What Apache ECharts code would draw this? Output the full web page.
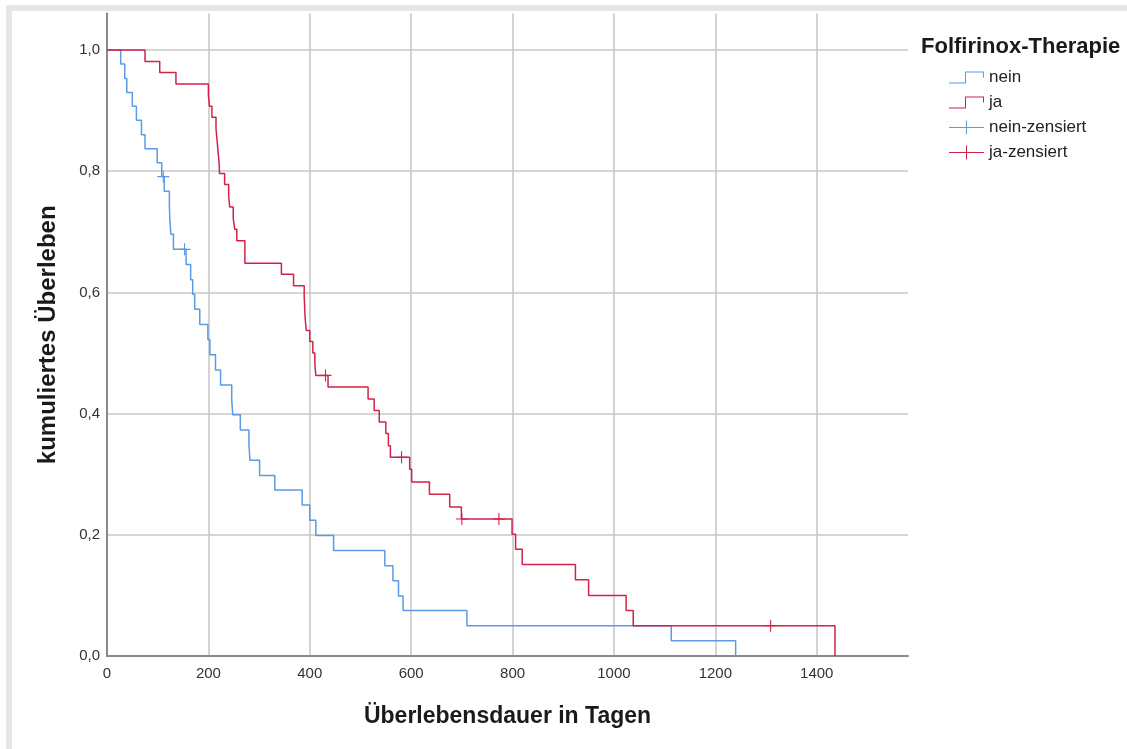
<!DOCTYPE html>
<html>
<head>
<meta charset="utf-8">
<script src="https://cdn.jsdelivr.net/npm/echarts@6/dist/echarts.min.js"></script>
<style>
html,body{margin:0;padding:0;background:#fff;}
#frame{position:absolute;left:6px;top:5px;width:1121px;height:744px;border-left:6px solid #e6e6e6;border-top:6px solid #e6e6e6;box-sizing:border-box;}
#chart{position:absolute;left:0;top:0;width:1127px;height:749px;}
</style>
</head>
<body>
<div id="frame"></div>
<div id="chart"></div>
<script>
// Kaplan-Meier data (days, cumulative survival)
const neinTimes = [27,35,39,50,58,68,75,99,108,113,123,124,126,131,156,165,169,173,183,199,203,214,224,246,248,263,280,282,301,331,385,400,412,447,548,564,575,584,710,1113,1240];
const neinSurv  = [0.977,0.953,0.930,0.907,0.884,0.860,0.837,0.814,0.791,0.767,0.743,0.719,0.696,0.671,0.646,0.621,0.597,0.572,0.547,0.522,0.497,0.472,0.447,0.423,0.398,0.373,0.348,0.323,0.298,0.274,0.249,0.224,0.199,0.174,0.149,0.124,0.099,0.075,0.050,0.025,0];
const neinCensTimes = [111,153];
const neinCensSurv  = [0.791,0.671];

const jaTimes = [75,104,136,200,202,207,215,217,219,221,222,232,240,242,249,252,256,272,344,368,389,390,391,393,400,406,410,412,436,515,527,537,550,555,559,597,601,636,676,699,799,806,819,924,950,1024,1038,1436];
const jaSurv  = [0.981,0.963,0.944,0.926,0.907,0.889,0.870,0.852,0.833,0.815,0.796,0.778,0.759,0.741,0.722,0.704,0.685,0.648,0.630,0.611,0.593,0.574,0.556,0.537,0.519,0.500,0.481,0.463,0.444,0.424,0.405,0.386,0.367,0.347,0.328,0.308,0.287,0.267,0.246,0.226,0.201,0.176,0.151,0.126,0.100,0.075,0.050,0];
const jaCensTimes = [431,581,700,773,1309];
const jaCensSurv  = [0.463,0.328,0.226,0.226,0.050];

const seriesNames = ['nein','ja','nein-zensiert','ja-zensiert'];
const legendTitle = 'Folfirinox-Therapie';
const xAxisTitle = 'Überlebensdauer in Tagen';
const yAxisTitle = 'kumuliertes Überleben';

const BLUE = '#5b9ae4';
const RED = '#d4214b';
const FONT = 'Liberation Sans, Arial, sans-serif';

function stepData(t, s) {
  const d = [[0, 1]];
  for (let i = 0; i < t.length; i++) d.push([t[i], s[i]]);
  return d;
}
function pts(t, s) { return t.map((v, i) => [v, s[i]]); }

const plusPath = 'path://M-0.09,-1 H0.09 V-0.09 H1 V0.09 H0.09 V1 H-0.09 V0.09 H-1 V-0.09 H-0.09 Z';
const stepIcon = 'path://M0,12 H16 V1 H35 V7 H34 V2 H17 V13 H0 Z';
const censIcon = 'path://M0,6.5 H35 V7.5 H0 Z M17,0 H18 V14 H17 Z';

const chart = echarts.init(document.getElementById('chart'), null, {renderer: 'canvas'});
chart.setOption({
  animation: false,
  backgroundColor: 'transparent',
  title: {
    text: legendTitle, left: 916, top: 31,
    textStyle: {fontFamily: FONT, fontSize: 22, fontWeight: 'bold', color: '#1a1a1a'}
  },
  legend: {
    orient: 'vertical', left: 949, top: 69, itemWidth: 35, itemHeight: 14, itemGap: 8, padding: 0,
    textStyle: {fontFamily: FONT, fontSize: 17, color: '#222'},
    data: [
      {name: seriesNames[0], icon: stepIcon},
      {name: seriesNames[1], icon: stepIcon},
      {name: seriesNames[2], icon: censIcon},
      {name: seriesNames[3], icon: censIcon}
    ]
  },
  grid: {left: 107, right: 219, top: 13.6, bottom: 93, containLabel: false},
  xAxis: {
    type: 'value', min: 0, max: 1580, interval: 200,
    name: xAxisTitle, nameLocation: 'middle', nameGap: 49,
    nameTextStyle: {fontFamily: FONT, fontSize: 23, fontWeight: 'bold', color: '#1a1a1a'},
    axisLine: {show: true, onZero: false, lineStyle: {color: '#8a8a8a', width: 2}},
    axisTick: {show: false},
    axisLabel: {fontFamily: FONT, fontSize: 15, color: '#333', margin: 10, showMaxLabel: false,
      formatter: v => (v % 200 === 0 ? String(v) : '')},
    splitLine: {show: true, showMaxLine: false, lineStyle: {color: '#c8c8c8', width: 1.6}}
  },
  yAxis: {
    type: 'value', min: 0, max: 1.06, interval: 0.2,
    name: yAxisTitle, nameLocation: 'middle', nameGap: 47, nameRotate: 90,
    nameTextStyle: {fontFamily: FONT, fontSize: 24, fontWeight: 'bold', color: '#1a1a1a'},
    axisLine: {show: true, onZero: false, lineStyle: {color: '#8a8a8a', width: 2}},
    axisTick: {show: false},
    axisLabel: {fontFamily: FONT, fontSize: 15, color: '#333', margin: 7, showMaxLabel: false,
      formatter: v => (v > 1.001 ? '' : v.toFixed(1).replace('.', ','))},
    splitLine: {show: true, showMaxLine: false, lineStyle: {color: '#c8c8c8', width: 1.6}}
  },
  series: [
    {name: seriesNames[0], type: 'line', step: 'end', data: stepData(neinTimes, neinSurv),
     showSymbol: false, symbol: 'none', lineStyle: {color: BLUE, width: 1.5}, itemStyle: {color: BLUE}, z: 2},
    {name: seriesNames[1], type: 'line', step: 'end', data: stepData(jaTimes, jaSurv),
     showSymbol: false, symbol: 'none', lineStyle: {color: RED, width: 1.5}, itemStyle: {color: RED}, z: 3},
    {name: seriesNames[2], type: 'scatter', data: pts(neinCensTimes, neinCensSurv),
     symbol: plusPath, symbolSize: 12, itemStyle: {color: BLUE, opacity: 1}, z: 4},
    {name: seriesNames[3], type: 'scatter', data: pts(jaCensTimes, jaCensSurv),
     symbol: plusPath, symbolSize: 12, itemStyle: {color: RED, opacity: 1}, z: 5}
  ]
});
</script>
</body>
</html>
